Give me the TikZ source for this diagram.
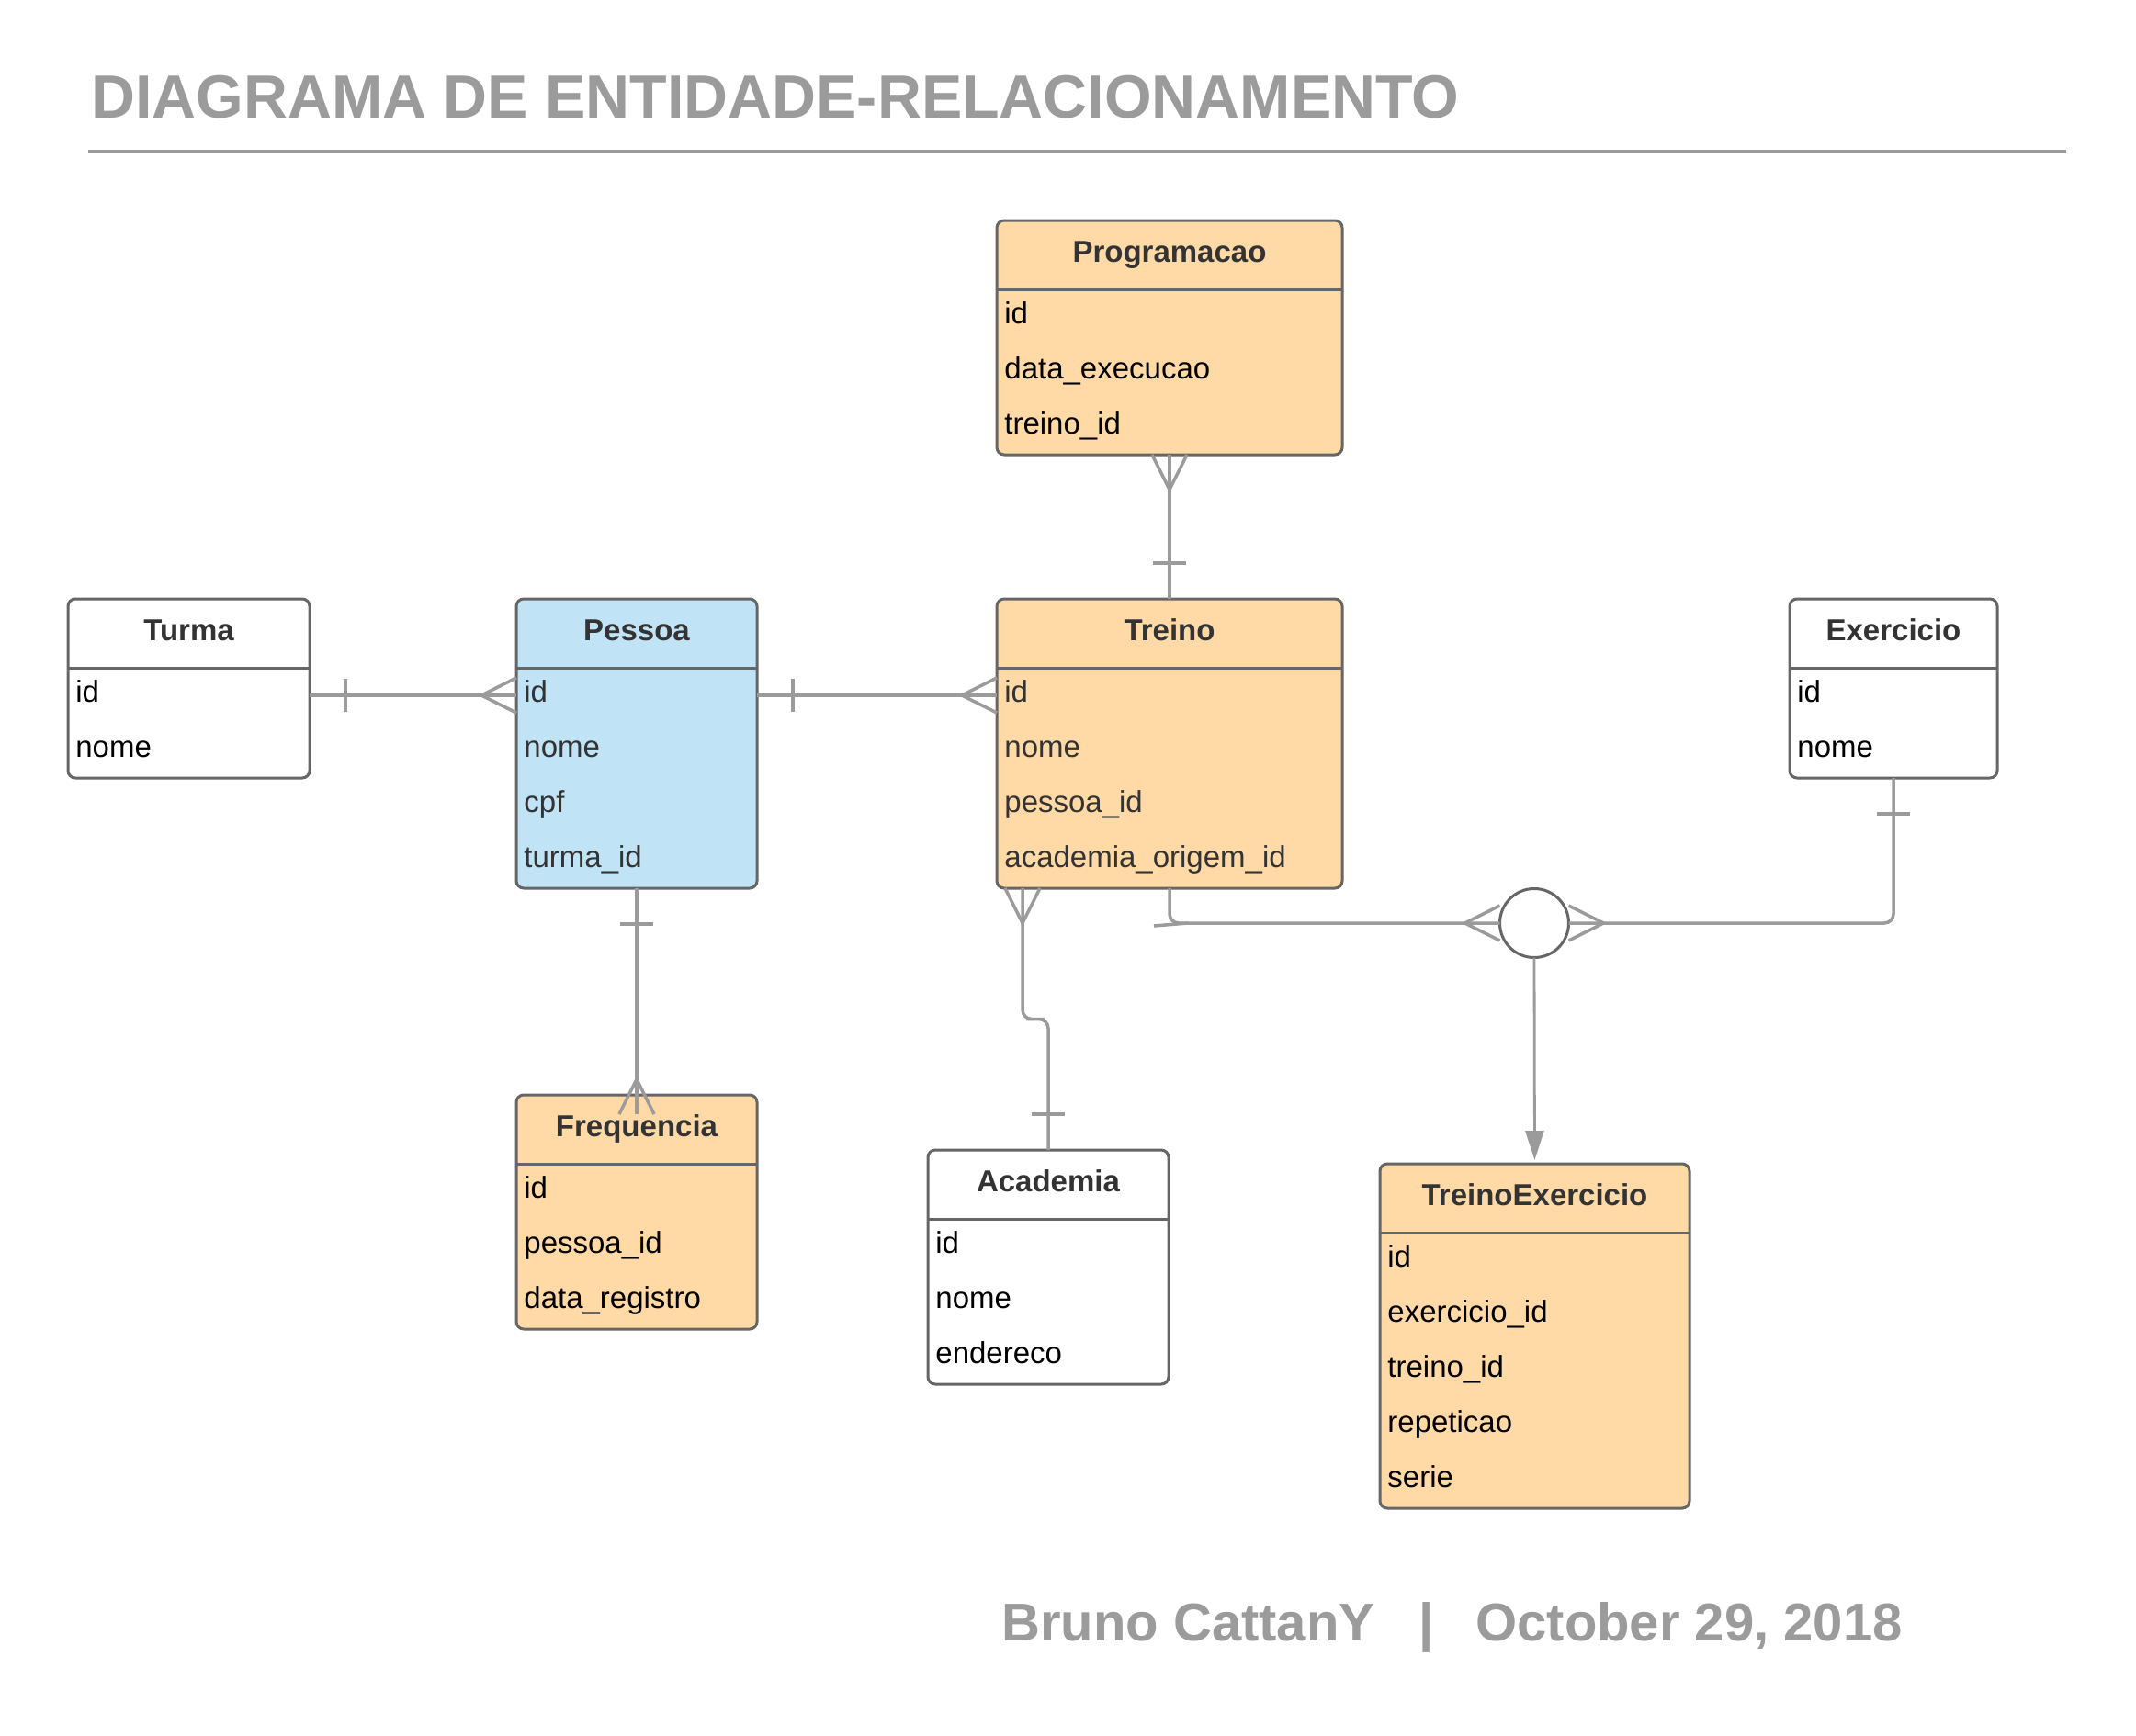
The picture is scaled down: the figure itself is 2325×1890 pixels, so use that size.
\documentclass[tikz,border=0pt]{standalone}
\usepackage{fontspec}
\setmainfont{Liberation Sans}
\usetikzlibrary{calc,arrows.meta}
\definecolor{orangefill}{HTML}{FFD9A6}
\definecolor{bluefill}{HTML}{C1E3F6}
\definecolor{entborder}{HTML}{666666}
\definecolor{connc}{HTML}{9B9B9B}
\definecolor{hdtext}{HTML}{333333}
\definecolor{rowdark}{HTML}{333333}
\definecolor{titlegray}{HTML}{9B9B9B}
\tikzset{
  entbox/.style={draw=entborder, line width=1.5pt, rounded corners=4pt, inner sep=0pt, outer sep=0pt, anchor=north west},
  entline/.style={draw=entborder, line width=1.5pt},
  enttitle/.style={font=\fontsize{16.5}{19}\selectfont\bfseries, text=hdtext, inner sep=0pt, anchor=base},
  entrow/.style={font=\fontsize{16.5}{19}\selectfont, inner sep=0pt, anchor=base west},
  conn/.style={draw=connc, line width=1.75pt},
  relcirc/.style={circle, draw=entborder, line width=1.5pt, fill=white, minimum size=37.5pt, inner sep=0pt, outer sep=0pt},
  bigtitle/.style={font=\fontsize{33.2}{40}\selectfont\bfseries, text=titlegray, anchor=base west, inner sep=0pt},
  footer/.style={font=\fontsize{29}{35}\selectfont\bfseries, text=titlegray, anchor=base west, inner sep=0pt},
}
% #1 name, #2 x, #3 y, #4 width px, #5 height px, #6 fill, #7 title, #8 rows, #9 row colour
\newcommand\erentity[9]{%
  \node[entbox, fill=#6, minimum width=#4*0.5pt, minimum height=#5*0.5pt] (#1) at (#2,#3) {};
  \draw[entline] ($(#1.north west)+(0,75)$) -- ($(#1.north east)+(0,75)$);
  \node[enttitle] (#1-t) at ($(#1.north)+(0,45)$) {#7};
  \foreach \rw [count=\i] in {#8} {\node[entrow, text=#9] (#1-r\i) at ($(#1.north west)+(8,{112+60*(\i-1)})$) {\rw};}
}
\newcommand\crowmark[2]{\draw[conn] ($(#1)+({#2+90}:19)$) -- ($(#1)+(#2:38)$) -- ($(#1)+({#2-90}:19)$);}
\newcommand\barmark[2]{\draw[conn] ($(#1)+(#2:39)+({#2+90}:18)$) -- ($(#1)+(#2:39)+({#2-90}:18)$);}
\begin{document}
\begin{tikzpicture}[x=0.5pt,y=-0.5pt]
\fill[white] (0,0) rectangle (2325,1890);
\useasboundingbox (0,0) rectangle (2325,1890);

\node[bigtitle] (title) at (99,128) {DIAGRAMA DE ENTIDADE-RELACIONAMENTO};
\draw[draw=titlegray, line width=2pt] (96,165) -- (2249,165);

\erentity{prog}{1085}{240}{376}{255}{orangefill}{Programacao}{id,data\_execucao,treino\_id}{black}
\erentity{turma}{74}{652}{263}{195}{white}{Turma}{id,nome}{black}
\erentity{pessoa}{562}{652}{262}{315}{bluefill}{Pessoa}{id,nome,cpf,turma\_id}{rowdark}
\erentity{treino}{1085}{652}{376}{315}{orangefill}{Treino}{id,nome,pessoa\_id,academia\_origem\_id}{rowdark}
\erentity{exercicio}{1948}{652}{226}{195}{white}{Exercicio}{id,nome}{black}
\erentity{freq}{562}{1192}{262}{255}{orangefill}{Frequencia}{id,pessoa\_id,data\_registro}{black}
\erentity{academia}{1010}{1252}{262}{255}{white}{Academia}{id,nome,endereco}{black}
\erentity{te}{1502}{1267}{337}{375}{orangefill}{TreinoExercicio}{id,exercicio\_id,treino\_id,repeticao,serie}{black}

% Programacao - Treino
\coordinate (pt1) at (prog.south);
\coordinate (pt2) at (treino.north);
\draw[conn] (pt1) -- (pt2);
\crowmark{pt1}{90}
\barmark{pt2}{270}

% Turma - Pessoa
\coordinate (tp1) at ($(turma.north east)+(0,105)$);
\coordinate (tp2) at (tp1 -| pessoa.west);
\draw[conn] (tp1) -- (tp2);
\barmark{tp1}{0}
\crowmark{tp2}{180}

% Pessoa - Treino
\coordinate (pe1) at ($(pessoa.north east)+(0,105)$);
\coordinate (pe2) at (pe1 -| treino.west);
\draw[conn] (pe1) -- (pe2);
\barmark{pe1}{0}
\crowmark{pe2}{180}

% Pessoa - Frequencia
\coordinate (pf1) at (pessoa.south);
\coordinate (pf2) at ($(freq.north)+(0,21)$);
\draw[conn] (pf1) -- (pf2);
\barmark{pf1}{90}
\crowmark{pf2}{270}

% Treino - Academia
\coordinate (ta1) at ($(treino.south west)+(28,0)$);
\coordinate (ta2) at (academia.north);
\coordinate (tam) at ($(ta1)!0.5!(ta2)$);
\draw[conn, rounded corners=5pt] (ta1) |- (tam) -| (ta2);
\crowmark{ta1}{90}
\barmark{ta2}{270}

% Ternary relationship
\node[relcirc] (rel) at (1670,1005) {};
\coordinate (tr1) at (treino.south);
\draw[conn, rounded corners=5pt] (tr1) |- (rel.west);
\draw[conn] ($(tr1)+(-17,41)$) -- ($(tr1)+(20,38)$);
\crowmark{rel.west}{180}
\coordinate (ex1) at (exercicio.south);
\draw[conn, rounded corners=5pt] (rel.east) -| (ex1);
\crowmark{rel.east}{0}
\barmark{ex1}{90}
\draw[conn, line width=1.4pt, -{Triangle[length=16pt,width=10pt]}, shorten >=2pt] (rel.south) -- (te.north);

% Footer
\node[footer] (author) at (1090,1786) {Bruno CattanY};
\node[footer] (sep) at (1544,1786) {|};
\node[footer] (date) at (1606,1786) {October 29, 2018};
\end{tikzpicture}
\end{document}
